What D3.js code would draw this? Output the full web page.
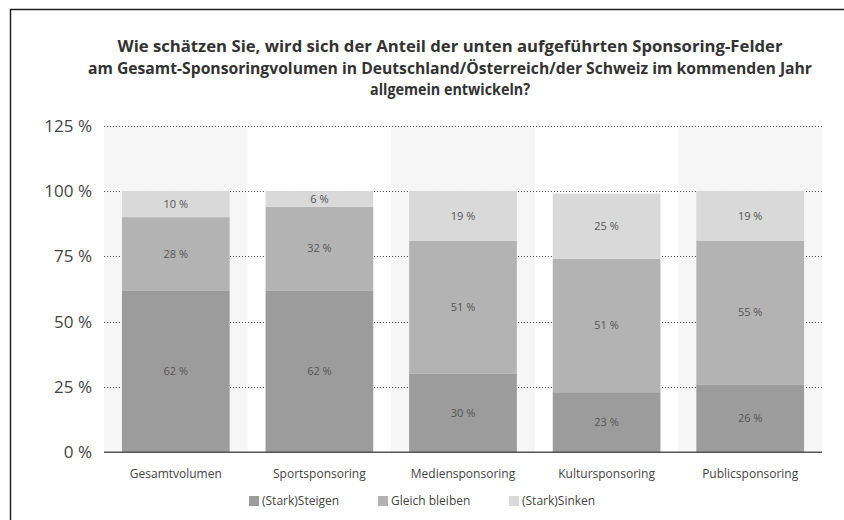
<!DOCTYPE html>
<html><head><meta charset="utf-8">
<script src="https://cdn.jsdelivr.net/npm/d3@7"></script>
<style>body{margin:0;background:#fff}svg{display:block}</style>
</head><body>
<svg id="c" width="844" height="520"></svg>
<script>
const titleLines = [
  "Wie schätzen Sie, wird sich der Anteil der unten aufgeführten Sponsoring-Felder",
  "am Gesamt-Sponsoringvolumen in Deutschland/Österreich/der Schweiz im kommenden Jahr",
  "allgemein entwickeln?"
];
const categories = ["Gesamtvolumen","Sportsponsoring","Mediensponsoring","Kultursponsoring","Publicsponsoring"];
const seriesNames = ["(Stark)Steigen","Gleich bleiben","(Stark)Sinken"];
const steigen = [62,62,30,23,26];
const gleich  = [28,32,51,51,55];
const sinken  = [10,6,19,25,19];
const yTicks = [0,25,50,75,100,125];
const colors = ["#9c9c9c","#b3b3b3","#d9d9d9"];

const svg = d3.select("#c");
const font = "'Open Sans', 'Noto Sans', sans-serif";
const M = {left:104, right:822, top:125.7, bottom:452.3};

// frame
svg.append("path").attr("d","M10.5,520 L10.5,9.5 L844,9.5").attr("fill","none").attr("stroke","#222").attr("stroke-width",1.5);

// title
const titleW = [665, 724, 160];
const t = svg.append("text").attr("text-anchor","middle").attr("font-family",font)
  .attr("font-weight","bold").attr("font-size",16).attr("fill","#333");
titleLines.forEach((l,i)=>t.append("tspan").attr("x",450).attr("y",52+i*21.5)
  .attr("textLength",titleW[i]).attr("lengthAdjust","spacingAndGlyphs").text(l));

const x = d3.scaleBand().domain(categories).range([M.left,M.right]).paddingInner(0).paddingOuter(0);
const y = d3.scaleLinear().domain([0,125]).range([M.bottom,M.top]);

// alternate bands
svg.append("g").selectAll("rect").data(categories.filter((d,i)=>i%2===0)).join("rect")
  .attr("x",d=>x(d)).attr("width",x.bandwidth()).attr("y",y(125)).attr("height",y(0)-y(125)).attr("fill","#f6f6f6");

// grid
svg.append("g").selectAll("line").data(yTicks.filter(v=>v>0)).join("line")
  .attr("x1",M.left).attr("x2",M.right).attr("y1",d=>Math.round(y(d))+0.5).attr("y2",d=>Math.round(y(d))+0.5)
  .attr("stroke","#555").attr("stroke-width",1).attr("stroke-dasharray","1,2");

// y axis labels
const yAxis = d3.axisLeft(y).tickValues(yTicks).tickSize(0).tickPadding(12).tickFormat(d=>d+" %");
const ya = svg.append("g").attr("transform",`translate(${M.left},0)`).call(yAxis);
ya.select(".domain").remove();
ya.selectAll("text").attr("font-family",font).attr("font-size",17).attr("fill","#444");

// stacks
const rows = categories.map((c,i)=>({cat:c, s0:steigen[i], s1:gleich[i], s2:sinken[i]}));
const stack = d3.stack().keys(["s0","s1","s2"])(rows);
const bw = x.bandwidth()*0.75, off = x.bandwidth()*0.125;
const g = svg.append("g");
stack.forEach((layer,k)=>{
  g.selectAll(null).data(layer).join("rect")
    .attr("x",d=>x(d.data.cat)+off).attr("width",bw)
    .attr("y",d=>y(d[1])).attr("height",d=>y(d[0])-y(d[1])).attr("fill",colors[k]);
  g.selectAll(null).data(layer).join("text")
    .attr("x",d=>x(d.data.cat)+x.bandwidth()/2).attr("y",d=>(y(d[0])+y(d[1]))/2)
    .attr("dy","0.35em").attr("text-anchor","middle").attr("font-family",font).attr("font-size",11)
    .attr("fill","#555").text(d=>(d[1]-d[0])+" %");
});

// x axis
svg.append("line").attr("x1",M.left).attr("x2",M.right).attr("y1",y(0)).attr("y2",y(0)).attr("stroke","#555").attr("stroke-width",1.5);
const xAxis = d3.axisBottom(x).tickSize(0).tickPadding(17);
const xa = svg.append("g").attr("transform",`translate(0,${y(0)})`).call(xAxis);
xa.select(".domain").remove();
xa.selectAll("text").attr("font-family",font).attr("font-size",12).attr("fill","#444");

// legend
const legX = [249,378,509];
const lg = svg.append("g");
seriesNames.forEach((n,i)=>{
  lg.append("rect").attr("x",legX[i]).attr("y",496).attr("width",10).attr("height",10).attr("fill",colors[i]);
  lg.append("text").attr("x",legX[i]+13).attr("y",501).attr("dy","0.35em").attr("font-family",font)
    .attr("font-size",12).attr("fill","#444").text(n);
});
</script>
</body></html>
